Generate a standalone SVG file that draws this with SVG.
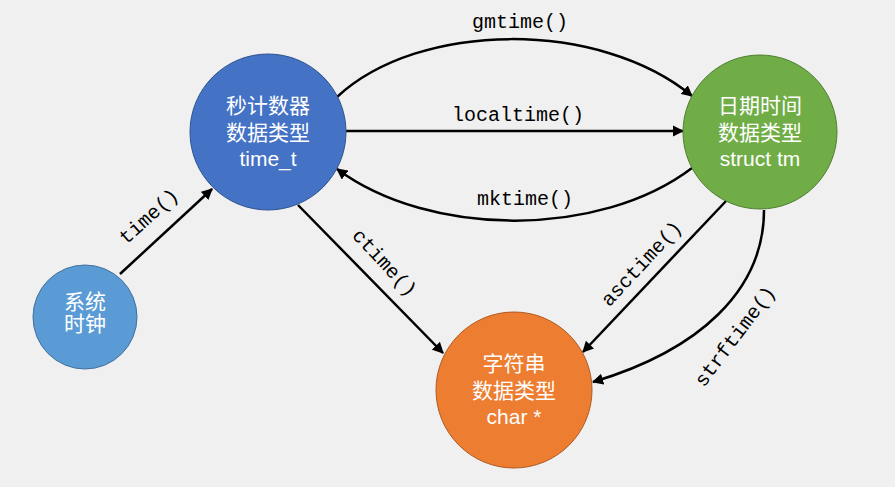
<svg xmlns="http://www.w3.org/2000/svg" width="895" height="487" viewBox="0 0 895 487">
<style>
.node{stroke-width:1}
.t{font-family:"Liberation Sans","Noto Sans CJK SC",sans-serif;font-size:21px;fill:#fff;text-anchor:middle}
.lbl{font-family:"Liberation Mono","DejaVu Sans Mono",monospace;font-size:20px;fill:#000;text-anchor:middle}
.c{fill:none;stroke:#000;stroke-width:2.5;marker-end:url(#ah)}
</style>
<defs>
<marker id="ah" viewBox="0 0 10 10" refX="9" refY="5" markerWidth="4.5" markerHeight="4.5" orient="auto" markerUnits="strokeWidth">
<path d="M0,0 L10,5 L0,10 z" fill="#000"/>
</marker>
</defs>
<rect width="895" height="487" fill="#f0f0f0"/>
<g id="connectors">
<path class="c" d="M120,274 L212,189"/>
<path class="c" d="M337,97 C420,20 600,20 692,96"/>
<path class="c" d="M346,131 L683,131"/>
<path class="c" d="M692,168 C600,238 430,238 337,169"/>
<path class="c" d="M298,205 L443,353"/>
<path class="c" d="M727,200 L583,352"/>
<path class="c" d="M764,210 C764,290 700,350 593,382"/>
<text class="lbl" transform="translate(153,221) rotate(-42)">time()</text>
<text class="lbl" x="520" y="28">gmtime()</text>
<text class="lbl" x="518" y="121">localtime()</text>
<text class="lbl" x="525" y="205">mktime()</text>
<text class="lbl" transform="translate(380,267) rotate(47)">ctime()</text>
<text class="lbl" transform="translate(646,268) rotate(-47)">asctime()</text>
<text class="lbl" transform="translate(740,340) rotate(-53)">strftime()</text>
</g>
<g id="clock">
<circle class="node" cx="85" cy="317" r="52" fill="#5B9BD5" stroke="#41719C"/>
<text class="t" x="85" y="309">系统</text>
<text class="t" x="85" y="331">时钟</text>
</g>
<g id="time_t">
<circle class="node" cx="268" cy="132" r="78" fill="#4472C4" stroke="#2F528F"/>
<text class="t" x="268" y="113">秒计数器</text>
<text class="t" x="268" y="140">数据类型</text>
<text class="t" x="268" y="166">time_t</text>
</g>
<g id="tm">
<circle class="node" cx="760" cy="132" r="77" fill="#70AD47" stroke="#507E32"/>
<text class="t" x="760" y="113">日期时间</text>
<text class="t" x="760" y="140">数据类型</text>
<text class="t" x="760" y="166">struct tm</text>
</g>
<g id="charp">
<circle class="node" cx="514" cy="390" r="78" fill="#ED7D31" stroke="#AE5A21"/>
<text class="t" x="514" y="371">字符串</text>
<text class="t" x="514" y="398">数据类型</text>
<text class="t" x="514" y="424">char *</text>
</g>
</svg>
